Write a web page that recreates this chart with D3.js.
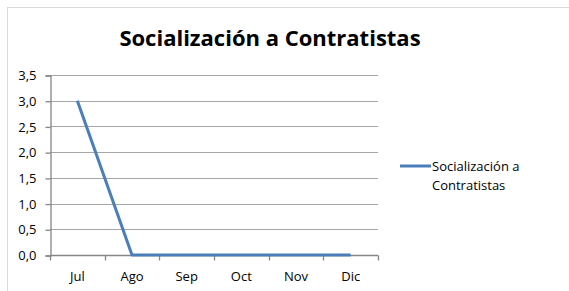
<!DOCTYPE html>
<html>
<head>
<meta charset="utf-8">
<script src="https://cdn.jsdelivr.net/npm/d3@7"></script>
<style>
  body { margin: 0; background: #fff; }
  text { font-family: "Open Sans", "Liberation Sans", sans-serif; fill: #000; }
</style>
</head>
<body>
<svg id="graphic-svg" width="569" height="291"></svg>
<script>
var svg = d3.select("#graphic-svg");

// Data
var months = ["Jul", "Ago", "Sep", "Oct", "Nov", "Dic"];
var values = [3, 0, 0, 0, 0, 0];
var yTicks = [0, 0.5, 1, 1.5, 2, 2.5, 3, 3.5];
var seriesName = "Socialización a Contratistas";

var plot = { left: 50, right: 378, top: 75, bottom: 255 };
var lineColor = "#4a7ebb";

// frame
svg.append("rect")
   .attr("x", 7.5).attr("y", 7.5)
   .attr("width", 600).attr("height", 300)
   .style("fill", "none")
   .style("stroke", "#d9d9d9");

// Scales
var xScale = d3.scaleBand()
               .domain(months)
               .range([plot.left, plot.right]);
var yScale = d3.scaleLinear()
               .domain([0, 3.5])
               .range([plot.bottom, plot.top]);

// Gridlines
svg.append("g")
   .selectAll("line")
   .data(yTicks.slice(1))
   .enter()
   .append("line")
   .attr("x1", plot.left)
   .attr("x2", plot.right)
   .attr("y1", function(d) { return Math.round(yScale(d)) + 0.5; })
   .attr("y2", function(d) { return Math.round(yScale(d)) + 0.5; })
   .style("stroke", "#a6a6a6")
   .style("stroke-width", 1);

// Y axis
var yAxis = d3.axisLeft(yScale)
              .tickValues(yTicks)
              .tickSize(5)
              .tickPadding(9)
              .tickFormat(function(d) { return d3.format(".1f")(d).replace(".", ","); });
var yg = svg.append("g")
   .attr("transform", "translate(" + (plot.left + 0.5) + ",0.5)")
   .call(yAxis);
yg.selectAll("text").style("font-size", "13px").style("font-family", "Open Sans");

// X axis
var xAxis = d3.axisBottom(xScale).tickSize(0).tickPadding(16);
var xg = svg.append("g")
   .attr("transform", "translate(0," + (plot.bottom + 0.5) + ")")
   .call(xAxis);
xg.selectAll("text").style("font-size", "13px").style("font-family", "Open Sans");
// category boundary ticks
var bounds = months.map(function(m) { return xScale(m); }).concat([plot.right]);
xg.selectAll(".bound")
  .data(bounds)
  .enter()
  .append("line")
  .attr("class", "bound")
  .attr("x1", function(d) { return Math.round(d) + 0.5; })
  .attr("x2", function(d) { return Math.round(d) + 0.5; })
  .attr("y1", 0).attr("y2", 5);

[yg, xg].forEach(function(g) {
  g.selectAll("path, line").style("stroke", "#868686").style("stroke-width", 1.3);
});
xg.select(".domain").attr("d", "M" + plot.left + ",0H" + plot.right);

// Series line
var line = d3.line()
             .x(function(d, i) { return xScale(months[i]) + xScale.bandwidth() / 2; })
             .y(function(d) { return yScale(d); });
svg.append("path")
   .datum(values)
   .attr("d", line)
   .style("fill", "none")
   .style("stroke", lineColor)
   .style("stroke-width", 3)
   .style("stroke-linejoin", "round");

// Title
svg.append("text")
   .text("Socialización a Contratistas")
   .attr("x", 270)
   .attr("y", 46)
   .style("text-anchor", "middle")
   .style("font-size", "22px")
   .style("font-weight", "bold");

// Legend
svg.append("line")
   .attr("x1", 400).attr("x2", 431)
   .attr("y1", 166).attr("y2", 166)
   .style("stroke", lineColor)
   .style("stroke-width", 3);
svg.append("text")
   .attr("x", 432)
   .attr("y", 171)
   .style("font-size", "13px")
   .selectAll("tspan")
   .data(["Socialización a", "Contratistas"])
   .enter()
   .append("tspan")
   .attr("x", 432)
   .attr("dy", function(d, i) { return i === 0 ? 0 : 19; })
   .text(function(d) { return d; });
</script>
</body>
</html>
